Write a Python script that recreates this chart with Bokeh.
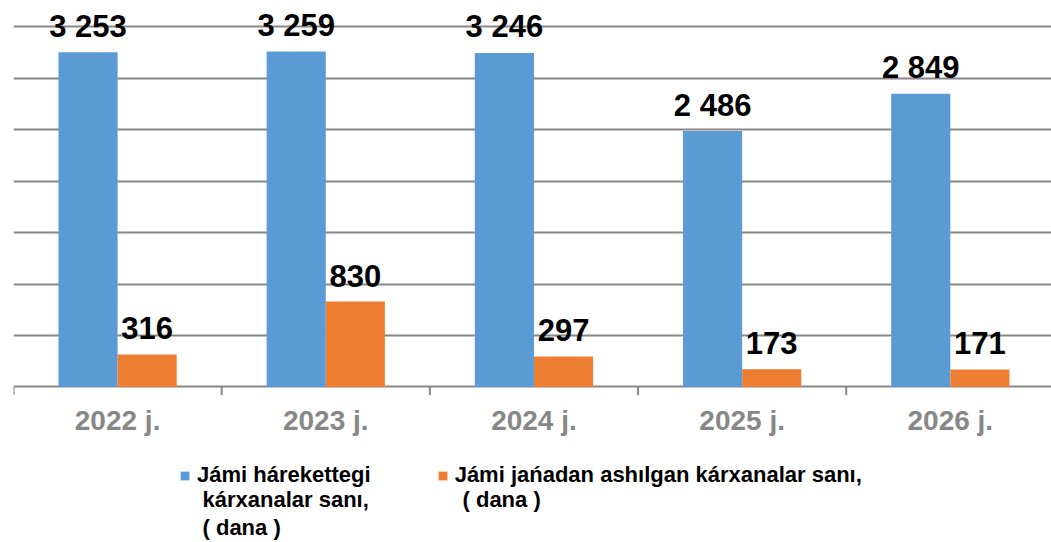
import math
from bokeh.plotting import figure
from bokeh.models import ColumnDataSource, Range1d, FixedTicker, Legend, LegendItem, Label
from bokeh.core.properties import value
from bokeh.embed import file_html
from bokeh.resources import INLINE

years = ["2022 j.", "2023 j.", "2024 j.", "2025 j.", "2026 j."]
active = [3253, 3259, 3246, 2486, 2849]
opened = [316, 830, 297, 173, 171]
grid_values = [0, 500, 1000, 1500, 2000, 2500, 3000, 3500]
label_active = ["Jámi hárekettegi", "kárxanalar sanı,", "( dana )"]
label_opened = ["Jámi jańadan ashılgan kárxanalar sanı,", "( dana )"]

BLUE = "#5B9BD5"
ORANGE = "#ED7D31"
GRID = "#878787"
FONT = "Liberation Sans"

n = len(years)
centers = [i + 0.5 for i in range(n)]
bounds = list(range(n + 1))
off = 0.142
bw = 0.284

def fmt(v):
    return f"{v:,}".replace(",", " ")

src_a = ColumnDataSource(dict(x=[c - off for c in centers], top=active,
                              lab=[fmt(v) for v in active]))
src_o = ColumnDataSource(dict(x=[c + off for c in centers], top=opened,
                              lab=[fmt(v) for v in opened]))
src_cat = ColumnDataSource(dict(x=centers, y=[0] * n, lab=years))
src_tk = ColumnDataSource(dict(x=bounds, y=[0] * (n + 1)))

p = figure(width=1051, height=542, output_backend="svg", toolbar_location=None,
           x_range=Range1d(0, 4.986), y_range=Range1d(-1511, 3755),
           x_axis_location=None, y_axis_location=None,
           min_border_left=13, min_border_right=0, min_border_top=0,
           min_border_bottom=0)
p.outline_line_color = None
p.background_fill_color = "white"
p.border_fill_color = "white"
p.xgrid.visible = False
p.ygrid.ticker = FixedTicker(ticks=grid_values)
p.ygrid.grid_line_color = GRID
p.ygrid.grid_line_width = 2

r1 = p.vbar(x="x", top="top", width=bw, source=src_a, fill_color=BLUE, line_color=None)
r2 = p.vbar(x="x", top="top", width=bw, source=src_o, fill_color=ORANGE, line_color=None)

# axis tick marks at category boundaries
p.ray(x="x", y="y", source=src_tk, length=8, length_units="screen",
      angle=-math.pi / 2, line_color=GRID, line_width=2)

# category labels
p.text(x="x", y="y", text="lab", source=src_cat, text_align="center",
       text_baseline="alphabetic", y_offset=34,
       text_font=value(FONT), text_font_style="bold",
       text_font_size="28px", text_color="#878787")

# value labels
for s in (src_a, src_o):
    p.text(x="x", y="top", text="lab", source=s, text_align="center",
           text_baseline="alphabetic", y_offset=-26,
           text_font=value(FONT), text_font_style="bold",
           text_font_size="31px", text_color="black")

legend = Legend(items=[LegendItem(label=label_active[0], renderers=[r1]),
                       LegendItem(label=label_opened[0], renderers=[r2])],
                orientation="horizontal", location=(166, 54),
                glyph_width=11, glyph_height=11, label_standoff=7, spacing=66,
                padding=0, margin=0, border_line_color=None,
                background_fill_alpha=0,
                label_text_font=FONT, label_text_font_style="bold",
                label_text_font_size="22px", label_text_color="black")
p.add_layout(legend, "center")

for txt, xs in (("\n".join(label_active[1:]), 189), ("\n".join(label_opened[1:]), 449)):
    p.add_layout(Label(x=xs, y=56, x_units="screen", y_units="screen", text=txt,
                       text_baseline="top", text_align="left",
                       text_font=FONT, text_font_style="bold",
                       text_font_size="22px", text_color="black",
                       text_line_height=1.13))

open("out.html", "w").write(file_html(p, INLINE))
